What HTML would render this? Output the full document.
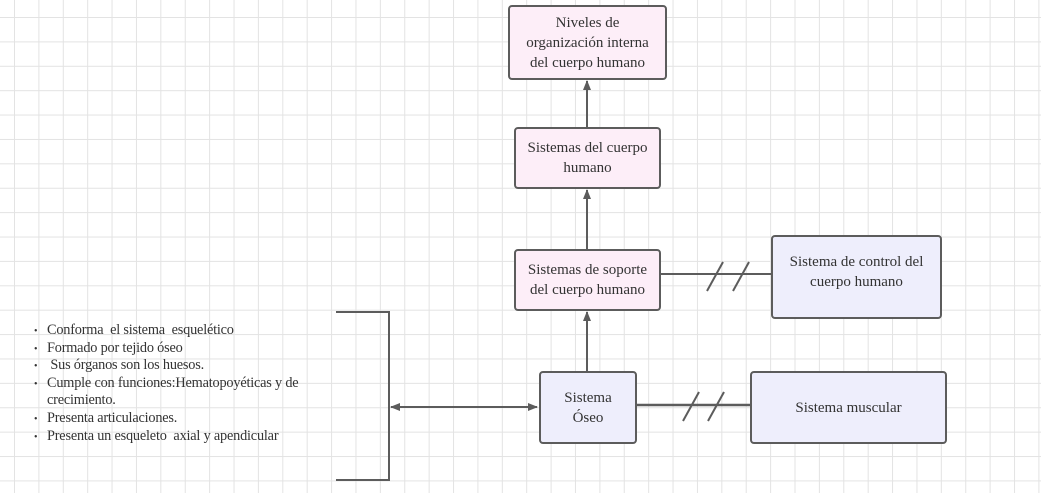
<!DOCTYPE html>
<html><head><meta charset="utf-8"><style>
body{margin:0;width:1041px;height:493px;overflow:hidden;background:#fff;
background-image:linear-gradient(#e3e3e3 1px,transparent 1px),linear-gradient(90deg,#e3e3e3 1px,transparent 1px);
background-size:24.4px 24.4px;background-position:14px 17px;font-family:"Liberation Serif",serif;color:#333;position:relative}
.b{position:absolute;box-sizing:border-box;border:2px solid #5c5c5c;border-radius:4px;display:flex;align-items:center;justify-content:center;text-align:center;font-size:15px;line-height:20px}
.p{background:#fdeef8}.l{background:#eeeefc}
ul{position:absolute;left:34px;top:322px;margin:0;padding:0;list-style:none;font-size:14.3px;line-height:17.6px;width:300px;letter-spacing:-0.2px}
li{padding-left:13px;position:relative}
li:before{content:"•";position:absolute;left:0;top:1px;font-size:10px}
</style></head><body>
<svg width="1041" height="493" style="position:absolute;left:0;top:0">
<defs><marker id="a" markerWidth="10" markerHeight="10" refX="9" refY="5" orient="auto-start-reverse" markerUnits="userSpaceOnUse"><path d="M0,1 L10,5 L0,9z" fill="#5c5c5c"/></marker></defs>
<g stroke="#5c5c5c" stroke-width="2" fill="none">
<line x1="587" y1="127" x2="587" y2="81" marker-end="url(#a)"/>
<line x1="587" y1="249" x2="587" y2="190" marker-end="url(#a)"/>
<line x1="587" y1="371" x2="587" y2="312" marker-end="url(#a)"/>
<line x1="660" y1="274" x2="776" y2="274"/>
<line x1="707" y1="291" x2="723" y2="262"/><line x1="733" y1="291" x2="749" y2="262"/>
<line x1="636" y1="405" x2="750" y2="405" stroke-width="2.5"/>
<line x1="683" y1="421" x2="699" y2="392"/><line x1="708" y1="421" x2="724" y2="392"/>
<polyline points="336,312 389,312 389,480 336,480"/>
<line x1="391" y1="407" x2="537" y2="407" marker-end="url(#a)" marker-start="url(#a)"/>
</g>
</svg>
<div class="b p" style="left:508px;top:5px;width:159px;height:75px">Niveles de<br>organización interna<br>del cuerpo humano</div>
<div class="b p" style="left:514px;top:127px;width:147px;height:62px">Sistemas del cuerpo<br>humano</div>
<div class="b p" style="left:514px;top:249px;width:147px;height:62px">Sistemas de soporte<br>del cuerpo humano</div>
<div class="b l" style="left:771px;top:235px;width:171px;height:84px;padding-bottom:10px">Sistema de control del<br>cuerpo humano</div>
<div class="b l" style="left:539px;top:371px;width:98px;height:73px">Sistema<br>Óseo</div>
<div class="b l" style="left:750px;top:371px;width:197px;height:73px">Sistema muscular</div>
<ul>
<li>Conforma &nbsp;el sistema &nbsp;esquelético</li>
<li>Formado por tejido óseo</li>
<li>&nbsp;Sus órganos son los huesos.</li>
<li>Cumple con funciones:Hematopoyéticas y de<br>crecimiento.</li>
<li>Presenta articulaciones.</li>
<li>Presenta un esqueleto &nbsp;axial y apendicular</li>
</ul>
</body></html>
